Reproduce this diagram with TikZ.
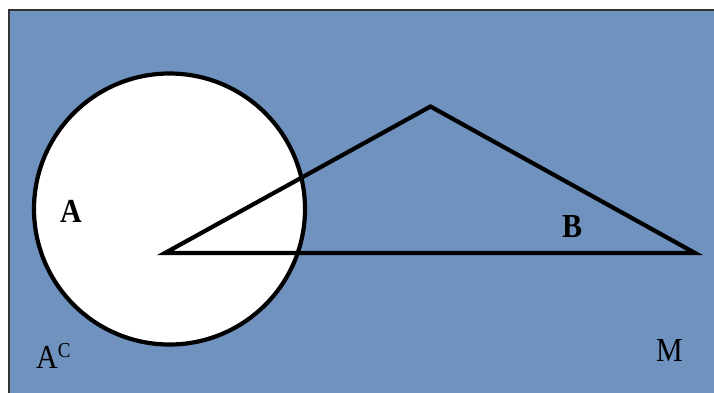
\documentclass[tikz,border=0pt]{standalone}
\usepackage{fontspec}
\setmainfont{Liberation Serif}
\usepackage{tikz}

\definecolor{setblue}{RGB}{111,146,190}
\newcommand{\talltext}[1]{\scalebox{1}[1.12]{#1}}
\tikzset{
  setlbl/.style={anchor=base west,inner sep=0pt,font=\fontsize{30}{30}\selectfont},
  setlblbf/.style={setlbl,font=\fontsize{30}{30}\selectfont\bfseries},
  outline/.style={line width=4.2pt}
}

\begin{document}
\begin{tikzpicture}[x=1pt,y=-1pt]
\useasboundingbox (0,0) rectangle (714,392);
\clip (0,0) rectangle (714,392);
% universe M
\fill[setblue] (9,10) rectangle (730,410);
\draw[line width=1.5pt,black!80] (9,410) -- (9,10) -- (730,10);
% set A
\fill[white] (169.5,209) circle (135.5pt);
\draw[outline] (169.5,209) circle (135.5pt);
% set B
\coordinate (bl) at (165,253);
\coordinate (bt) at (430.5,106.5);
\coordinate (br) at (695,253);
\draw[outline] (bl) -- (bt) -- (br) -- cycle;
% labels
\node[setlblbf] (lblA) at (60,222) {\talltext{A}};
\node[setlblbf] (lblB) at (562,237) {\talltext{B}};
\node[setlbl] (lblAc) at (36,368) {\talltext{A\raisebox{9.5pt}{\fontsize{19}{19}\selectfont C}}};
\node[setlbl] (lblM) at (656,361) {\talltext{M}};
\end{tikzpicture}
\end{document}
